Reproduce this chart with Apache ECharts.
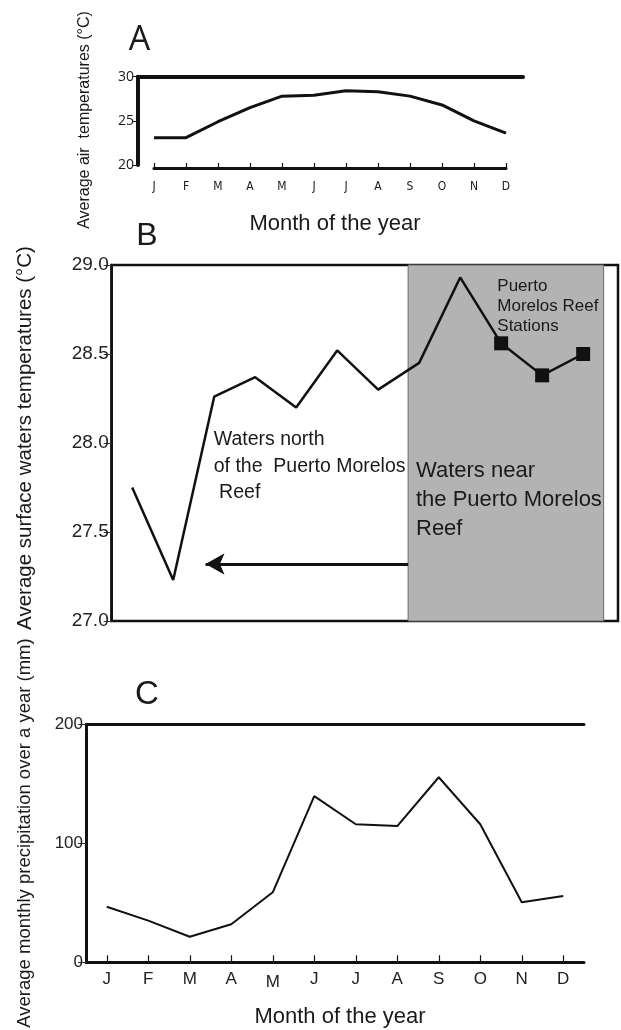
<!DOCTYPE html>
<html>
<head>
<meta charset="utf-8">
<script src="https://cdn.jsdelivr.net/npm/echarts@6/dist/echarts.min.js"></script>
<style>
html,body{margin:0;padding:0;background:#fff;}
#chart{width:621px;height:1030px;}
</style>
</head>
<body>
<div id="chart"></div>
<script>
// ---------- data ----------
const months = ['J','F','M','A','M','J','J','A','S','O','N','D'];
const airTicks = [20, 25, 30];
const airTemp = [23.1, 23.1, 24.9, 26.5, 27.8, 27.9, 28.4, 28.3, 27.8, 26.8, 25.0, 23.6];
const waterTicks = [27.0, 27.5, 28.0, 28.5, 29.0];
const waterTemp = [27.75, 27.23, 28.26, 28.37, 28.20, 28.52, 28.30, 28.45, 28.93, 28.56, 28.38, 28.50];
const stationIdx = [9, 10, 11];
const reefZone = [6.73, 11.5];          // month-index span of the shaded "near reef" zone
const arrowB = {from: 6.73, to: 1.79, level: 27.32};
const precipTicks = [0, 100, 200];
const precip = [46.7, 35, 21.5, 32, 58.8, 139.7, 116, 114.5, 155.5, 116, 50.4, 55.7];

const FONT = 'Liberation Sans, Arial, sans-serif';
const INK = '#111';

const chart = echarts.init(document.getElementById('chart'), null, {renderer: 'canvas'});

function txt(text, x, y, size, opts) {
  opts = opts || {};
  return {
    type: 'text', x: x, y: y, rotation: opts.rotation || 0, z: 10,
    style: {
      text: text, fill: opts.fill || '#1a1a1a',
      font: size + 'px ' + (opts.family || FONT),
      textAlign: opts.align || 'center', align: opts.align || 'center',
      textVerticalAlign: opts.valign || 'middle', verticalAlign: opts.valign || 'middle',
      lineHeight: opts.lineHeight
    }
  };
}

const option = {
  animation: false,
  backgroundColor: '#fff',
  textStyle: {fontFamily: FONT},
  grid: [
    {left: 138, right: 98, top: 76.7, bottom: 865},
    {left: 154, right: 115, top: 76.7, bottom: 865},
    {left: 111.7, right: 3, top: 265, bottom: 409, show: true, borderColor: INK, borderWidth: 2.5, backgroundColor: 'rgba(0,0,0,0)'},
    {left: 86, right: 37, top: 724.3, bottom: 67.7}
  ],
  xAxis: [
    {gridIndex: 0, type: 'value', position: 'top', min: 0, max: 1,
      axisLine: {show: true, onZero: false, lineStyle: {color: INK, width: 4}},
      axisTick: {show: false}, axisLabel: {show: false}, splitLine: {show: false}},
    {gridIndex: 1, type: 'category', data: months, boundaryGap: false, offset: 3,
      axisLine: {show: true, onZero: false, lineStyle: {color: INK, width: 3}},
      axisTick: {show: true, inside: true, interval: 0, length: 5, lineStyle: {color: INK, width: 1.2}},
      axisLabel: {interval: 0, fontSize: 12, margin: 13, color: '#1a1a1a', fontFamily: 'DejaVu Sans Condensed, Liberation Sans Narrow, sans-serif'},
      splitLine: {show: false}},
    {gridIndex: 2, type: 'value', min: -0.5, max: 11.85, show: false},
    {gridIndex: 3, type: 'category', data: months, boundaryGap: true,
      axisLine: {show: true, onZero: false, lineStyle: {color: INK, width: 3}},
      axisTick: {show: true, inside: true, interval: 0, alignWithLabel: true, length: 7, lineStyle: {color: INK, width: 1.2}},
      axisLabel: {interval: 0, fontSize: 17, margin: 9, color: '#222',
        formatter: function (v, i) { return i === 4 ? '{low|' + v + '}' : v; },
        rich: {low: {fontSize: 17, color: '#222', padding: [3, 0, 0, 0]}}},
      splitLine: {show: false}},
    {gridIndex: 3, type: 'value', position: 'top', min: 0, max: 1,
      axisLine: {show: true, onZero: false, lineStyle: {color: INK, width: 3}},
      axisTick: {show: false}, axisLabel: {show: false}, splitLine: {show: false}}
  ],
  yAxis: [
    {gridIndex: 0, type: 'value', min: airTicks[0], max: airTicks[airTicks.length - 1], interval: 5,
      axisLine: {show: true, onZero: false, lineStyle: {color: INK, width: 4}},
      axisTick: {show: true, length: 5, lineStyle: {color: INK, width: 1}},
      axisLabel: {fontSize: 14, margin: 4, color: '#1a1a1a', fontFamily: 'Open Sans, sans-serif'},
      splitLine: {show: false}},
    {gridIndex: 1, type: 'value', min: airTicks[0], max: airTicks[airTicks.length - 1], show: false},
    {gridIndex: 2, type: 'value', min: waterTicks[0], max: waterTicks[waterTicks.length - 1], interval: 0.5,
      axisLine: {show: true, onZero: false, lineStyle: {color: INK, width: 2.5}},
      axisTick: {show: true, length: 8, lineStyle: {color: '#333', width: 1}},
      axisLabel: {fontSize: 19, margin: 3, color: '#222', formatter: function (v) { return v.toFixed(1); }},
      splitLine: {show: false}},
    {gridIndex: 3, type: 'value', min: precipTicks[0], max: precipTicks[precipTicks.length - 1], interval: 100,
      axisLine: {show: true, onZero: false, lineStyle: {color: INK, width: 3}},
      axisTick: {show: true, length: 8, lineStyle: {color: '#333', width: 1}},
      axisLabel: {fontSize: 17, margin: 3, color: '#222'},
      splitLine: {show: false}}
  ],
  series: [
    {type: 'line', xAxisIndex: 1, yAxisIndex: 1, data: airTemp, symbol: 'none',
      lineStyle: {color: INK, width: 3}, z: 3},
    {type: 'line', xAxisIndex: 2, yAxisIndex: 2, data: [], symbol: 'none', z: 1,
      markArea: {silent: true, z: 1,
        itemStyle: {color: '#b3b3b3', borderColor: '#6a6a6a', borderWidth: 1},
        data: [[{xAxis: reefZone[0]}, {xAxis: reefZone[1]}]]},
      markLine: {silent: true, z: 4, symbol: ['none', 'arrow'], symbolSize: [16, 19],
        label: {show: false},
        lineStyle: {color: INK, width: 3, type: 'solid'},
        data: [[{coord: [arrowB.from, arrowB.level], symbol: 'none'}, {coord: [arrowB.to, arrowB.level], symbol: 'arrow'}]]}},
    {type: 'line', xAxisIndex: 2, yAxisIndex: 2, symbol: 'none', z: 3,
      data: waterTemp.map(function (v, i) { return [i, v]; }),
      lineStyle: {color: INK, width: 2.5}},
    {type: 'scatter', xAxisIndex: 2, yAxisIndex: 2, symbol: 'rect', symbolSize: 14, z: 5,
      itemStyle: {color: INK, opacity: 1},
      data: stationIdx.map(function (i) { return [i, waterTemp[i]]; })},
    {type: 'line', xAxisIndex: 3, yAxisIndex: 3, data: precip, symbol: 'none',
      lineStyle: {color: INK, width: 2}, z: 3}
  ],
  graphic: [
    txt('A', 139.5, 40, 34, {family: 'Open Sans, sans-serif'}),
    txt('Average air  temperatures (°C)', 85, 120, 16, {rotation: Math.PI / 2}),
    txt('Month of the year', 335, 224, 22),
    txt('B', 147, 236, 32),
    txt('Average surface waters temperatures (°C)', 25, 438, 20.5, {rotation: Math.PI / 2}),
    txt('Waters north\nof the  Puerto Morelos\n Reef', 213.7, 426.5, 19.5, {align: 'left', valign: 'top', lineHeight: 26.5}),
    txt('Waters near\nthe Puerto Morelos\nReef', 416, 456, 22, {align: 'left', valign: 'top', lineHeight: 29.3}),
    txt('Puerto\nMorelos Reef\nStations', 497.3, 276, 17, {align: 'left', valign: 'top', lineHeight: 20}),
    txt('C', 147, 695, 33),
    txt('Average monthly precipitation over a year (mm)', 25, 833, 18.5, {rotation: Math.PI / 2}),
    txt('Month of the year', 340, 1017, 22)
  ]
};
chart.setOption(option);
</script>
</body>
</html>
